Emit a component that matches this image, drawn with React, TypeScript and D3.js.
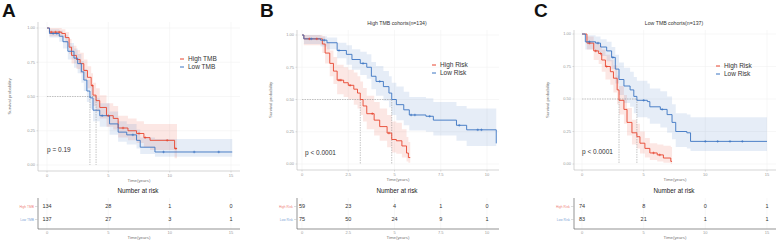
import React from "react";
import * as d3 from "d3";

const RED = "#E8452F";
const BLUE = "#3B74C2";
const FONT = "'Liberation Sans', Arial, sans-serif";

// ---------- Panel A (TMB) ----------
const A_HIGH_T = [0, 0.2, 1.2, 1.5, 1.8, 2.0, 2.4, 2.7, 3.0, 3.3, 3.6, 3.75, 4.0, 4.3, 4.85, 5.4, 5.8, 6.6, 7.3, 7.9, 8.4, 10.4];
const A_HIGH_S = [1, 0.97, 0.96, 0.93, 0.86, 0.8, 0.77, 0.74, 0.69, 0.64, 0.58, 0.51, 0.47, 0.42, 0.36, 0.34, 0.27, 0.25, 0.23, 0.2, 0.18, 0.12];
const A_HIGH_LO = [1, 0.94, 0.93, 0.89, 0.81, 0.74, 0.7, 0.67, 0.62, 0.56, 0.5, 0.43, 0.39, 0.34, 0.28, 0.26, 0.2, 0.18, 0.16, 0.13, 0.11, 0.05];
const A_HIGH_HI = [1, 1, 0.99, 0.97, 0.92, 0.87, 0.84, 0.82, 0.77, 0.72, 0.67, 0.6, 0.56, 0.51, 0.45, 0.43, 0.36, 0.34, 0.32, 0.3, 0.3, 0.3];
const A_HIGH_END = 10.6;
const A_HIGH_CENS = [0.35, 0.7, 1.0, 3.7, 5.0, 6.2, 7.5, 8.0, 9.8, 10.5];

const A_LOW_T = [0, 0.2, 1.0, 1.3, 1.7, 2.2, 2.5, 2.8, 3.0, 3.25, 3.5, 3.75, 4.3, 5.1, 5.8, 6.5, 7.3, 7.6, 8.8];
const A_LOW_S = [1, 0.96, 0.94, 0.9, 0.83, 0.78, 0.74, 0.68, 0.62, 0.54, 0.49, 0.4, 0.36, 0.3, 0.24, 0.22, 0.18, 0.13, 0.095];
const A_LOW_LO = [1, 0.93, 0.9, 0.85, 0.77, 0.71, 0.67, 0.6, 0.54, 0.46, 0.41, 0.32, 0.28, 0.22, 0.17, 0.15, 0.12, 0.08, 0.06];
const A_LOW_HI = [1, 0.99, 0.98, 0.95, 0.89, 0.85, 0.81, 0.76, 0.7, 0.62, 0.58, 0.49, 0.45, 0.39, 0.32, 0.3, 0.26, 0.2, 0.19];
const A_LOW_END = 15.1;
const A_LOW_CENS = [0.5, 0.8, 4.5, 7.0, 9.5, 12.0, 14.0];

const A_X_TICKS = [0, 5, 10, 15];
const A_RISK_HIGH = [134, 28, 1, 0];
const A_RISK_LOW = [137, 27, 3, 1];

// ---------- Panel B (High TMB cohorts) ----------
const B_HIGH_T = [0, 0.1, 1.1, 1.25, 1.5, 1.7, 1.9, 2.25, 2.5, 2.8, 3.0, 3.15, 3.3, 3.5, 3.9, 4.2, 4.6, 4.85, 5.1, 5.4, 5.65, 5.75];
const B_HIGH_S = [1, 0.97, 0.93, 0.86, 0.78, 0.72, 0.65, 0.63, 0.61, 0.58, 0.55, 0.5, 0.45, 0.39, 0.34, 0.29, 0.24, 0.19, 0.18, 0.14, 0.085, 0.05];
const B_HIGH_LO = [1, 0.92, 0.86, 0.78, 0.68, 0.62, 0.54, 0.52, 0.5, 0.46, 0.43, 0.38, 0.33, 0.27, 0.22, 0.18, 0.13, 0.09, 0.08, 0.05, 0.02, 0.01];
const B_HIGH_HI = [1, 1, 0.99, 0.94, 0.88, 0.83, 0.77, 0.75, 0.73, 0.71, 0.68, 0.64, 0.59, 0.53, 0.48, 0.43, 0.38, 0.33, 0.32, 0.27, 0.21, 0.17];
const B_HIGH_END = 5.85;
const B_HIGH_CENS = [0.4, 0.8, 2.0, 2.1, 2.6, 3.8, 4.7];

const B_LOW_T = [0, 0.1, 1.0, 1.35, 1.9, 2.4, 2.7, 3.15, 3.5, 3.75, 4.0, 4.4, 4.7, 4.85, 5.1, 5.5, 5.8, 6.7, 7.1, 8.35, 8.9, 10.5];
const B_LOW_S = [1, 0.97, 0.96, 0.94, 0.88, 0.85, 0.81, 0.78, 0.75, 0.68, 0.64, 0.6, 0.55, 0.5, 0.46, 0.42, 0.38, 0.37, 0.34, 0.3, 0.265, 0.16];
const B_LOW_LO = [1, 0.93, 0.91, 0.89, 0.82, 0.77, 0.73, 0.69, 0.66, 0.58, 0.53, 0.49, 0.44, 0.38, 0.34, 0.3, 0.26, 0.25, 0.22, 0.18, 0.14, 0.07];
const B_LOW_HI = [1, 1, 0.99, 0.98, 0.94, 0.92, 0.89, 0.87, 0.85, 0.79, 0.76, 0.72, 0.68, 0.63, 0.6, 0.56, 0.52, 0.51, 0.48, 0.45, 0.43, 0.43];
const B_LOW_END = 10.5;
const B_LOW_CENS = [0.5, 1.2, 2.0, 3.3, 4.2, 5.9, 6.1, 6.9, 8.5, 9.5, 9.7];

const B_X_TICKS = [0, 2.5, 5, 7.5, 10];
const B_RISK_HIGH = [59, 23, 4, 1, 0];
const B_RISK_LOW = [75, 50, 24, 9, 1];

// ---------- Panel C (Low TMB cohorts) ----------
const C_HIGH_T = [0, 0.4, 0.95, 1.35, 1.6, 1.9, 2.3, 2.55, 2.85, 3.0, 3.4, 3.65, 4.05, 4.45, 4.7, 5.1, 5.5, 6.1, 6.6, 7.2];
const C_HIGH_S = [1, 0.93, 0.87, 0.85, 0.8, 0.75, 0.71, 0.66, 0.57, 0.49, 0.42, 0.32, 0.24, 0.21, 0.16, 0.12, 0.085, 0.07, 0.046, 0.02];
const C_HIGH_LO = [1, 0.88, 0.8, 0.77, 0.71, 0.65, 0.61, 0.55, 0.46, 0.38, 0.31, 0.22, 0.15, 0.12, 0.08, 0.05, 0.03, 0.02, 0.01, 0];
const C_HIGH_HI = [1, 0.98, 0.94, 0.92, 0.88, 0.84, 0.8, 0.76, 0.68, 0.6, 0.53, 0.43, 0.34, 0.31, 0.25, 0.2, 0.16, 0.15, 0.14, 0.13];
const C_HIGH_END = 7.3;
const C_HIGH_CENS = [0.6, 1.1, 1.5, 2.0, 5.8, 6.3];

const C_LOW_T = [0, 0.27, 1.1, 1.5, 2.0, 2.4, 2.7, 3.0, 3.4, 3.9, 4.2, 4.45, 5.3, 5.5, 6.35, 6.9, 7.3, 7.6, 8.5, 8.8];
const C_LOW_S = [1, 0.94, 0.93, 0.9, 0.87, 0.82, 0.73, 0.65, 0.6, 0.57, 0.52, 0.49, 0.48, 0.44, 0.42, 0.38, 0.32, 0.25, 0.24, 0.174];
const C_LOW_LO = [1, 0.88, 0.86, 0.83, 0.79, 0.73, 0.62, 0.53, 0.47, 0.44, 0.39, 0.36, 0.35, 0.31, 0.28, 0.24, 0.19, 0.13, 0.12, 0.1];
const C_LOW_HI = [1, 0.99, 0.98, 0.96, 0.94, 0.9, 0.84, 0.78, 0.74, 0.71, 0.67, 0.64, 0.62, 0.58, 0.56, 0.52, 0.46, 0.39, 0.38, 0.36];
const C_LOW_END = 15;
const C_LOW_CENS = [0.6, 1.3, 2.5, 5.0, 6.5, 10.0, 11.0, 12.0, 13.0];

const C_X_TICKS = [0, 5, 10, 15];
const C_RISK_HIGH = [74, 8, 0, 1];
const C_RISK_LOW = [83, 21, 1, 1];

const Y_TICKS = [0, 0.25, 0.5, 0.75, 1];
const Y_TICK_LABELS = ["0.00", "0.25", "0.50", "0.75", "1.00"];

type Series = {
  name: string; color: string; t: number[]; s: number[]; lo: number[]; hi: number[]; end: number; cens: number[]; risk: number[];
};

type PanelCfg = {
  letter: string; letterX: number; title: string | null; titleX: number;
  left: number; right: number; top: number; bottom: number;
  xRange: [number, number]; xDomainMax: number; yRange: [number, number];
  xTicks: number[]; yLabelX: number; pText: string; pX: number; pY: number;
  legX: number; legY: number; tableCx: number;
  series: Series[];
};

const PANELS: PanelCfg[] = [
  {
    letter: "A", letterX: 2, title: null, titleX: 138,
    left: 38, right: 240, top: 22, bottom: 171,
    xRange: [47, 231], xDomainMax: 15, yRange: [165, 28],
    xTicks: A_X_TICKS, yLabelX: 11, pText: "p = 0.19", pX: 47, pY: 152,
    legX: 180, legY: 59, tableCx: 138,
    series: [
      { name: "High TMB", color: RED, t: A_HIGH_T, s: A_HIGH_S, lo: A_HIGH_LO, hi: A_HIGH_HI, end: A_HIGH_END, cens: A_HIGH_CENS, risk: A_RISK_HIGH },
      { name: "Low TMB", color: BLUE, t: A_LOW_T, s: A_LOW_S, lo: A_LOW_LO, hi: A_LOW_HI, end: A_LOW_END, cens: A_LOW_CENS, risk: A_RISK_LOW },
    ],
  },
  {
    letter: "B", letterX: 260, title: "High TMB cohorts(n=134)", titleX: 397,
    left: 297, right: 499, top: 30, bottom: 170,
    xRange: [302, 487], xDomainMax: 10, yRange: [164, 35],
    xTicks: B_X_TICKS, yLabelX: 272, pText: "p < 0.0001", pX: 305, pY: 155,
    legX: 432, legY: 65, tableCx: 397,
    series: [
      { name: "High Risk", color: RED, t: B_HIGH_T, s: B_HIGH_S, lo: B_HIGH_LO, hi: B_HIGH_HI, end: B_HIGH_END, cens: B_HIGH_CENS, risk: B_RISK_HIGH },
      { name: "Low Risk", color: BLUE, t: B_LOW_T, s: B_LOW_S, lo: B_LOW_LO, hi: B_LOW_HI, end: B_LOW_END, cens: B_LOW_CENS, risk: B_RISK_LOW },
    ],
  },
  {
    letter: "C", letterX: 534, title: "Low TMB cohorts(n=137)", titleX: 674,
    left: 574, right: 776, top: 30, bottom: 170,
    xRange: [582, 767], xDomainMax: 15, yRange: [164, 34],
    xTicks: C_X_TICKS, yLabelX: 549, pText: "p < 0.0001", pX: 582, pY: 154,
    legX: 716, legY: 66, tableCx: 674,
    series: [
      { name: "High Risk", color: RED, t: C_HIGH_T, s: C_HIGH_S, lo: C_HIGH_LO, hi: C_HIGH_HI, end: C_HIGH_END, cens: C_HIGH_CENS, risk: C_RISK_HIGH },
      { name: "Low Risk", color: BLUE, t: C_LOW_T, s: C_LOW_S, lo: C_LOW_LO, hi: C_LOW_HI, end: C_LOW_END, cens: C_LOW_CENS, risk: C_RISK_LOW },
    ],
  },
];

function survAt(ser: Series, time: number) {
  let v = ser.s[0];
  for (let i = 0; i < ser.t.length; i++) if (ser.t[i] <= time) v = ser.s[i];
  return v;
}

function median(ser: Series) {
  for (let i = 0; i < ser.t.length; i++) if (ser.s[i] <= 0.5) return ser.t[i];
  return null;
}

function Panel({ p }: { p: PanelCfg }) {
  const x = d3.scaleLinear().domain([0, p.xDomainMax]).range(p.xRange);
  const y = d3.scaleLinear().domain([0, 1]).range(p.yRange);
  const cx = (p.left + p.right) / 2;

  const tblTop = 198;
  const tblBottom = 229;
  const rowY = [208, 221];

  const medians = p.series.map(median).filter((m) => m !== null) as number[];
  const maxMed = d3.max(medians) ?? 0;

  return (
    <g>
      <text x={p.letterX} y={17} fontSize={19} fontWeight="bold" fontFamily={FONT} fill="#111">{p.letter}</text>
      {p.title && (
        <text x={p.titleX} y={25} fontSize={5.2} textAnchor="middle" fontFamily={FONT} fill="#333">{p.title}</text>
      )}
      {/* grid */}
      {p.xTicks.map((t) => (
        <line key={"gx" + t} x1={x(t)} x2={x(t)} y1={p.top} y2={p.bottom} stroke="#f1f1f1" strokeWidth={0.6} />
      ))}
      {Y_TICKS.map((t) => (
        <line key={"gy" + t} x1={p.left} x2={p.right} y1={y(t)} y2={y(t)} stroke="#f1f1f1" strokeWidth={0.6} />
      ))}
      {/* bands */}
      {p.series.map((ser) => {
        const pts = ser.t.map((t, i) => ({ t, lo: ser.lo[i], hi: ser.hi[i] }));
        pts.push({ t: ser.end, lo: ser.lo[ser.lo.length - 1], hi: ser.hi[ser.hi.length - 1] });
        const area = d3.area<{ t: number; lo: number; hi: number }>()
          .x((d) => x(d.t)).y0((d) => y(d.lo)).y1((d) => y(d.hi)).curve(d3.curveStepAfter);
        return <path key={"b" + ser.name} d={area(pts) || ""} fill={ser.color} fillOpacity={0.13} />;
      })}
      {/* median lines */}
      {medians.length > 0 && (
        <line x1={x(0)} x2={x(maxMed)} y1={y(0.5)} y2={y(0.5)} stroke="#8a8a8a" strokeWidth={0.5} strokeDasharray="1.5,1" />
      )}
      {medians.map((m, i) => (
        <line key={"m" + i} x1={x(m)} x2={x(m)} y1={y(0.5)} y2={y(0)} stroke="#8a8a8a" strokeWidth={0.5} strokeDasharray="1.5,1" />
      ))}
      {/* curves */}
      {p.series.map((ser) => {
        const pts = ser.t.map((t, i) => ({ t, s: ser.s[i] }));
        pts.push({ t: ser.end, s: ser.s[ser.s.length - 1] });
        const line = d3.line<{ t: number; s: number }>().x((d) => x(d.t)).y((d) => y(d.s)).curve(d3.curveStepAfter);
        return <path key={"l" + ser.name} d={line(pts) || ""} fill="none" stroke={ser.color} strokeWidth={0.9} />;
      })}
      {/* censor marks */}
      {p.series.map((ser) =>
        ser.cens.map((c, i) => {
          const cxp = x(c);
          const cyp = y(survAt(ser, c));
          return (
            <g key={"c" + ser.name + i} stroke={ser.color} strokeWidth={0.6}>
              <line x1={cxp - 1.3} x2={cxp + 1.3} y1={cyp} y2={cyp} />
              <line x1={cxp} x2={cxp} y1={cyp - 1.3} y2={cyp + 1.3} />
            </g>
          );
        })
      )}
      {/* axes */}
      <line x1={p.left} x2={p.left} y1={p.top} y2={p.bottom} stroke="#bbb" strokeWidth={0.6} />
      <line x1={p.left} x2={p.right} y1={p.bottom} y2={p.bottom} stroke="#bbb" strokeWidth={0.6} />
      {Y_TICKS.map((t, i) => (
        <g key={"yt" + t}>
          <line x1={p.left - 1.5} x2={p.left} y1={y(t)} y2={y(t)} stroke="#bbb" strokeWidth={0.5} />
          <text x={p.left - 3} y={y(t) + 1.3} fontSize={4} textAnchor="end" fontFamily={FONT} fill="#999">{Y_TICK_LABELS[i]}</text>
        </g>
      ))}
      {p.xTicks.map((t) => (
        <g key={"xt" + t}>
          <line x1={x(t)} x2={x(t)} y1={p.bottom} y2={p.bottom + 1.5} stroke="#bbb" strokeWidth={0.5} />
          <text x={x(t)} y={p.bottom + 5.5} fontSize={4} textAnchor="middle" fontFamily={FONT} fill="#999">{t}</text>
        </g>
      ))}
      <text x={cx} y={p.bottom + 10.5} fontSize={4.3} textAnchor="middle" fontFamily={FONT} fill="#777">Time(years)</text>
      <text transform={`translate(${p.yLabelX},${(p.top + p.bottom) / 2}) rotate(-90)`} fontSize={4.3} textAnchor="middle" fontFamily={FONT} fill="#777">Survival probability</text>
      {/* p value */}
      <text x={p.pX} y={p.pY} fontSize={6.5} fontFamily={FONT} fill="#333">{p.pText}</text>
      {/* legend */}
      {p.series.map((ser, i) => (
        <g key={"lg" + ser.name}>
          <line x1={p.legX} x2={p.legX + 4} y1={p.legY + i * 8} y2={p.legY + i * 8} stroke={ser.color} strokeWidth={1} />
          <text x={p.legX + 8} y={p.legY + i * 8 + 2.3} fontSize={6.5} fontFamily={FONT} fill="#333">{ser.name}</text>
        </g>
      ))}
      {/* risk table */}
      <text x={p.tableCx} y={193} fontSize={6.3} textAnchor="middle" fontFamily={FONT} fill="#222">Number at risk</text>
      {p.xTicks.map((t) => (
        <line key={"tg" + t} x1={x(t)} x2={x(t)} y1={tblTop} y2={tblBottom} stroke="#f3f3f3" strokeWidth={0.6} />
      ))}
      <line x1={p.left} x2={p.left} y1={tblTop} y2={tblBottom} stroke="#666" strokeWidth={0.7} />
      <line x1={p.left} x2={p.right} y1={tblBottom} y2={tblBottom} stroke="#666" strokeWidth={0.7} />
      {p.series.map((ser, i) => (
        <g key={"rt" + ser.name}>
          <text x={p.left - 4} y={rowY[i] - 0.5} fontSize={3.3} textAnchor="end" fontFamily={FONT} fill={ser.color} fillOpacity={0.7}>{ser.name}</text>
          <line x1={p.left - 3} x2={p.left} y1={rowY[i] - 1.5} y2={rowY[i] - 1.5} stroke="#bbb" strokeWidth={0.5} />
          {ser.risk.map((r, j) => (
            <text key={j} x={x(p.xTicks[j])} y={rowY[i]} fontSize={5.5} textAnchor="middle" fontFamily={FONT} fill="#333">{r}</text>
          ))}
        </g>
      ))}
      {p.xTicks.map((t) => (
        <text key={"tt" + t} x={x(t)} y={tblBottom + 5} fontSize={4} textAnchor="middle" fontFamily={FONT} fill="#999">{t}</text>
      ))}
      <text x={cx} y={tblBottom + 10} fontSize={4.3} textAnchor="middle" fontFamily={FONT} fill="#777">Time(years)</text>
    </g>
  );
}

export default function App() {
  return (
    <div style={{ position: "absolute", left: 0, top: 0, width: 777, height: 241, background: "#fff" }}>
      <svg width={777} height={241} viewBox="0 0 777 241" style={{ display: "block" }}>
        <rect width={777} height={241} fill="#fff" />
        {PANELS.map((p) => (
          <Panel key={p.letter} p={p} />
        ))}
      </svg>
    </div>
  );
}
